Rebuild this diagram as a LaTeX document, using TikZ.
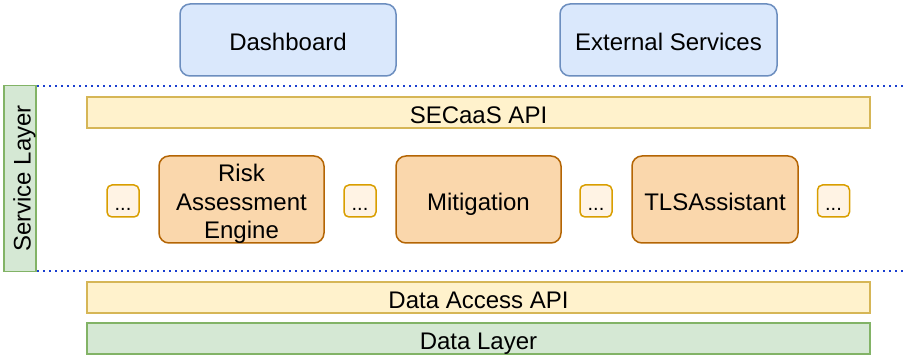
\documentclass[tikz,border=0pt]{standalone}
\usepackage{fontspec}
\setmainfont{Liberation Sans}
\definecolor{bluefill}{HTML}{DAE8FC}
\definecolor{bluedraw}{HTML}{6C8EBF}
\definecolor{greenfill}{HTML}{D5E8D4}
\definecolor{greendraw}{HTML}{82B366}
\definecolor{yellowfill}{HTML}{FFF2CC}
\definecolor{yellowdraw}{HTML}{D6B656}
\definecolor{orangefill}{HTML}{FAD7AC}
\definecolor{orangedraw}{HTML}{B46504}
\definecolor{smallfill}{HTML}{FFF3E4}
\definecolor{smalldraw}{HTML}{D99E00}
\definecolor{sepblue}{HTML}{1A3FD0}
% multi-line label, drawn slightly below its geometric centre
\newcommand{\stackedlabel}[1]{\raisebox{-2.5pt}[\height][\depth]{%
  \def\arraystretch{1}\setlength{\tabcolsep}{0pt}%
  \fontsize{12pt}{14.3pt}\selectfont\begin{tabular}{c}#1\end{tabular}}}
\tikzset{
  x=0.5pt, y=-0.5pt,
  every node/.style={font=\fontsize{12pt}{13.5pt}\selectfont, inner sep=0pt, align=center},
  oneline/.style={text height=11pt, text depth=0.4pt},
  client/.style={oneline, draw=bluedraw, fill=bluefill, line width=0.75pt, rounded corners=5pt,
    minimum height=36pt},
  apibar/.style={oneline, draw=yellowdraw, fill=yellowfill, line width=0.75pt,
    minimum width=391.5pt, minimum height=15.5pt},
  databar/.style={oneline, draw=greendraw, fill=greenfill, line width=0.75pt,
    minimum width=391.5pt, minimum height=15.5pt},
  module/.style={draw=orangedraw, fill=orangefill, line width=0.75pt, rounded corners=5pt,
    minimum height=43.5pt},
  more/.style={draw=smalldraw, fill=smallfill, line width=0.75pt, rounded corners=2.5pt,
    minimum width=16pt, minimum height=16pt, font=\fontsize{10pt}{11pt}\selectfont,
    text height=10pt, text depth=0pt},
  separator/.style={draw=sepblue, line width=1pt, dash pattern=on 1pt off 2pt},
}
\begin{document}
\begin{tikzpicture}
\useasboundingbox (0,0) rectangle (905,357);

% clients on top
\node[client, minimum width=108pt] (dash) at (288,40) {Dashboard};
\node[client, minimum width=108.5pt] (ext) at (668.5,40) {External Services};

% service layer label
\node[oneline, draw=greendraw, fill=greenfill, line width=0.75pt, rotate=90,
  minimum width=93pt, minimum height=16pt] (svc) at (20,178.5) {Service Layer};

% layer separators
\coordinate (sepTopL) at (37,86);
\coordinate (sepTopR) at (905,86);
\coordinate (sepBotL) at (37,271);
\coordinate (sepBotR) at (905,271);
\draw[separator] (sepTopL) -- (sepTopR);
\draw[separator] (sepBotL) -- (sepBotR);

% API bar
\node[apibar] (api) at (478.5,112.5) {SECaaS API};

% service modules
\node[more] (m1) at (123,201) {...};
\node[module, minimum width=82.5pt] (risk) at (241.5,199.5)
  {\stackedlabel{Risk\\Assessment\\Engine}};
\node[more] (m2) at (360,201) {...};
\node[module, oneline, minimum width=82.5pt] (mit) at (478.5,199.5) {Mitigation};
\node[more] (m3) at (596,201) {...};
\node[module, oneline, minimum width=83pt] (tls) at (715,199.5) {TLSAssistant};
\node[more] (m4) at (833.5,201) {...};

% data side
\node[apibar] (dapi) at (478.5,297.5) {Data Access API};
\node[databar] (data) at (478.5,338.5) {Data Layer};
\end{tikzpicture}
\end{document}
